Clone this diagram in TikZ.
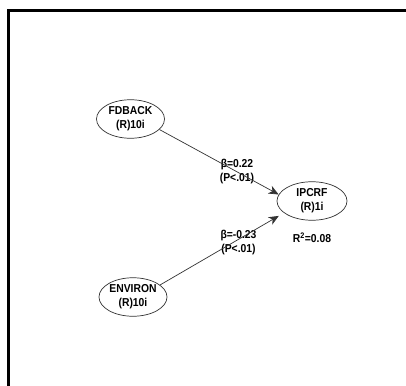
\documentclass[tikz,border=0pt]{standalone}
\usepackage{fontspec}
\setmainfont{Liberation Sans}[FakeStretch=0.9]
\usetikzlibrary{arrows.meta,shapes.geometric}
\begin{document}
\begin{tikzpicture}[x=1pt,y=-1pt,
  lv/.style={ellipse,draw=black!80,line width=0.7pt,inner sep=0pt,
    minimum width=68pt,minimum height=38.5pt,align=center,
    font=\fontsize{11.5}{14}\selectfont\bfseries},
  lbl/.style={inner sep=0pt,align=center,font=\fontsize{11.5}{14}\selectfont\bfseries},
  path/.style={draw=black!80,line width=0.7pt,
    -{Stealth[length=10pt,width=8.5pt,inset=3pt]}}]
\useasboundingbox (0,0) rectangle (406,385);
\fill[white] (0,0) rectangle (406,385);
\draw[line width=2.5pt] (8.7,386) -- (8.7,10.3) -- (407,10.3);
\node[lv] (fd) at (130.5,119) {FDBACK\\(R)10i};
\node[lv,minimum width=70pt] (ip) at (312,201) {IPCRF\\(R)1i};
\node[lv] (en) at (133,297) {ENVIRON\\(R)10i};
\node[lbl] (b1) at (237,171.5) {β=0.22\\(P<.01)};
\node[lbl] (b2) at (238.5,242.5) {β=-0.23\\(P<.01)};
\node[lbl] (r2) at (312,237.5) {R\textsuperscript{2}=0.08};
\draw[path] (fd.-20) -- (ip.169);
\draw[path,shorten >=6pt] (en.24) -- (ip.203);
\end{tikzpicture}
\end{document}
